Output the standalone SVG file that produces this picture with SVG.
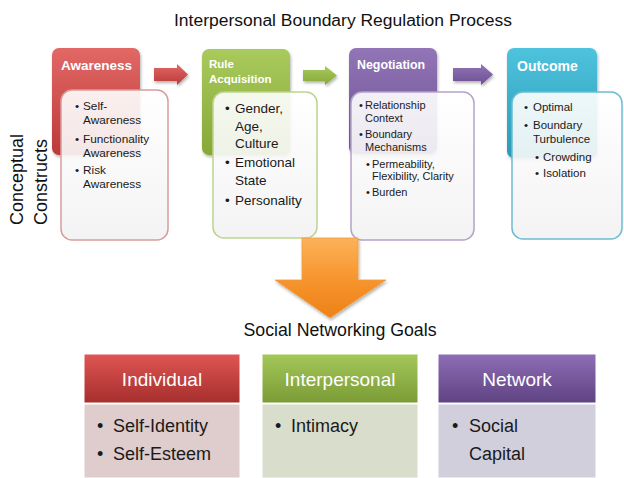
<svg xmlns="http://www.w3.org/2000/svg" width="624" height="478" viewBox="0 0 624 478">
  <defs>
    <linearGradient id="gRed" x1="0" y1="0" x2="0" y2="1">
      <stop offset="0" stop-color="#e26866"/>
      <stop offset="1" stop-color="#bb3a38"/>
    </linearGradient>
    <linearGradient id="gGreen" x1="0" y1="0" x2="0" y2="1">
      <stop offset="0" stop-color="#a9ca5c"/>
      <stop offset="1" stop-color="#86a838"/>
    </linearGradient>
    <linearGradient id="gPurple" x1="0" y1="0" x2="0" y2="1">
      <stop offset="0" stop-color="#9275b6"/>
      <stop offset="1" stop-color="#6c4f92"/>
    </linearGradient>
    <linearGradient id="gTeal" x1="0" y1="0" x2="0" y2="1">
      <stop offset="0" stop-color="#4fc3dd"/>
      <stop offset="1" stop-color="#2a9ab8"/>
    </linearGradient>
    <linearGradient id="gOrange" x1="0" y1="0" x2="0" y2="1">
      <stop offset="0" stop-color="#fcb25a"/>
      <stop offset="0.5" stop-color="#f7952e"/>
      <stop offset="1" stop-color="#ec8218"/>
    </linearGradient>
    <linearGradient id="gBody" x1="0" y1="0" x2="0" y2="1">
      <stop offset="0" stop-color="#ffffff"/>
      <stop offset="1" stop-color="#f2f2f2"/>
    </linearGradient>
    <linearGradient id="gRedBar" x1="0" y1="0" x2="0" y2="1">
      <stop offset="0" stop-color="#e05654"/>
      <stop offset="1" stop-color="#a52e2d"/>
    </linearGradient>
    <linearGradient id="gGreenBar" x1="0" y1="0" x2="0" y2="1">
      <stop offset="0" stop-color="#a4c85a"/>
      <stop offset="1" stop-color="#7b9b36"/>
    </linearGradient>
    <linearGradient id="gPurpleBar" x1="0" y1="0" x2="0" y2="1">
      <stop offset="0" stop-color="#8e6db6"/>
      <stop offset="1" stop-color="#5f4382"/>
    </linearGradient>
    <filter id="shadow" x="-10%" y="-10%" width="125%" height="125%">
      <feDropShadow dx="1" dy="2" stdDeviation="1.5" flood-color="#000" flood-opacity="0.3"/>
    </filter>
  </defs>
  <style>
    text { font-family: "Liberation Sans", Arial, sans-serif; fill: #1a1a1a; }
    .title { font-size: 16px; fill: #111; }
    .side { font-size: 18px; fill: #111; }
    .hdr { font-size: 13px; font-weight: bold; fill: #ffffff; }
    .body { fill: url(#gBody); fill-opacity: 0.9; stroke-width: 1.5; }
    .sm { font-size: 11px; fill: #1e1e1e; }
    .md { font-size: 13.5px; fill: #0e0e0e; }
    .bar { stroke: #ffffff; stroke-width: 1; }
    .barTxt { font-size: 19px; fill: #ffffff; text-anchor: middle; }
    .lg { font-size: 18px; fill: #111; }
  </style>

  <!-- heading -->
  <text class="title" x="343" y="26" text-anchor="middle" textLength="338" lengthAdjust="spacingAndGlyphs">Interpersonal Boundary Regulation Process</text>

  <!-- vertical side label -->
  <g id="side-label">
    <text class="side" transform="rotate(-90 23 225)" x="23" y="225">Conceptual</text>
    <text class="side" transform="rotate(-90 47 225)" x="47" y="225">Constructs</text>
  </g>

  <!-- process steps -->
  <g id="awareness">
    <rect x="52" y="48" width="88" height="107" rx="7" fill="url(#gRed)" filter="url(#shadow)"/>
    <text class="hdr" x="61" y="70" style="font-size:13.5px">Awareness</text>
    <rect class="body" x="61" y="90" width="107" height="150" rx="11" stroke="#d99c9b"/>
    <g class="sm" style="font-size:11.8px">
      <text x="75" y="110">•</text><text x="83" y="110">Self-</text>
      <text x="83" y="124">Awareness</text>
      <text x="75" y="143">•</text><text x="83" y="143">Functionality</text>
      <text x="83" y="157">Awareness</text>
      <text x="75" y="174">•</text><text x="83" y="174">Risk</text>
      <text x="83" y="188">Awareness</text>
    </g>
  </g>

  <g id="rule-acquisition">
    <rect x="202" y="49" width="88" height="106" rx="7" fill="url(#gGreen)" filter="url(#shadow)"/>
    <text class="hdr" x="209" y="68" style="font-size:11.5px">Rule</text>
    <text class="hdr" x="209" y="83" style="font-size:11.5px">Acquisition</text>
    <rect class="body" x="213" y="92" width="104" height="146" rx="11" stroke="#bcd38f"/>
    <g class="md">
      <text x="225" y="113">•</text><text x="235" y="113">Gender,</text>
      <text x="235" y="131">Age,</text>
      <text x="235" y="148">Culture</text>
      <text x="225" y="167">•</text><text x="235" y="167">Emotional</text>
      <text x="235" y="185">State</text>
      <text x="225" y="205">•</text><text x="235" y="205">Personality</text>
    </g>
  </g>

  <g id="negotiation">
    <rect x="349" y="48" width="88" height="106" rx="7" fill="url(#gPurple)" filter="url(#shadow)"/>
    <text class="hdr" x="357" y="69" style="font-size:12.4px">Negotiation</text>
    <rect class="body" x="351" y="92" width="123" height="148" rx="11" stroke="#b3a3c9"/>
    <g class="sm">
      <text x="359" y="109">•</text><text x="365" y="109">Relationship</text>
      <text x="365" y="122">Context</text>
      <text x="359" y="138">•</text><text x="365" y="138">Boundary</text>
      <text x="365" y="151">Mechanisms</text>
      <text x="366" y="168">•</text><text x="372" y="168">Permeability,</text>
      <text x="372" y="180">Flexibility, Clarity</text>
      <text x="366" y="196">•</text><text x="372" y="196">Burden</text>
    </g>
  </g>

  <g id="outcome">
    <rect x="507" y="48" width="90" height="110" rx="7" fill="url(#gTeal)" filter="url(#shadow)"/>
    <text class="hdr" x="517" y="71" style="font-size:14px">Outcome</text>
    <rect class="body" x="512" y="92" width="110" height="147" rx="11" stroke="#6cbcd2"/>
    <g class="sm" style="font-size:11.5px">
      <text x="524" y="111">•</text><text x="533" y="111">Optimal</text>
      <text x="524" y="129">•</text><text x="533" y="129">Boundary</text>
      <text x="533" y="143">Turbulence</text>
      <text x="535" y="161">•</text><text x="543" y="161">Crowding</text>
      <text x="535" y="177">•</text><text x="543" y="177">Isolation</text>
    </g>
  </g>

  <!-- connectors between the steps and down to the goals -->
  <g id="connectors">
    <path d="M154 68 H177 V64 L188 74.5 L177 85 V81 H154 Z" fill="url(#gRed)" filter="url(#shadow)"/>
    <path d="M303 70 H325 V66 L337 75.5 L325 85 V81 H303 Z" fill="url(#gGreen)" filter="url(#shadow)"/>
    <path d="M453 68 H481 V64 L493 74.5 L481 85 V81 H453 Z" fill="url(#gPurple)" filter="url(#shadow)"/>
    <path d="M302 238 H358 V280 H386 L330 318 L275 280 H302 Z" fill="url(#gOrange)" stroke="#f0a040" stroke-width="0.8" filter="url(#shadow)"/>
  </g>

  <text x="340" y="336" text-anchor="middle" style="font-size:17.5px; fill:#111" textLength="193" lengthAdjust="spacingAndGlyphs">Social Networking Goals</text>

  <!-- goal categories -->
  <g id="individual">
    <rect class="bar" x="84" y="354" width="156" height="49" fill="url(#gRedBar)"/>
    <text class="barTxt" x="162" y="386">Individual</text>
    <rect x="84" y="404" width="156" height="74" fill="#dfcccc" stroke="#ffffff" stroke-width="1"/>
    <g class="lg">
      <text x="97" y="432">•</text><text x="113" y="432">Self-Identity</text>
      <text x="97" y="460">•</text><text x="113" y="460">Self-Esteem</text>
    </g>
  </g>

  <g id="interpersonal">
    <rect class="bar" x="262" y="354" width="156" height="49" fill="url(#gGreenBar)"/>
    <text class="barTxt" x="340" y="386">Interpersonal</text>
    <rect x="262" y="404" width="156" height="74" fill="#d8decb" stroke="#ffffff" stroke-width="1"/>
    <g class="lg">
      <text x="275" y="432">•</text><text x="291" y="432">Intimacy</text>
    </g>
  </g>

  <g id="network">
    <rect class="bar" x="438" y="354" width="158" height="49" fill="url(#gPurpleBar)"/>
    <text class="barTxt" x="517" y="386">Network</text>
    <rect x="438" y="404" width="158" height="74" fill="#d1cfdc" stroke="#ffffff" stroke-width="1"/>
    <g class="lg">
      <text x="452" y="432">•</text><text x="469" y="432">Social</text>
      <text x="469" y="460">Capital</text>
    </g>
  </g>
</svg>
